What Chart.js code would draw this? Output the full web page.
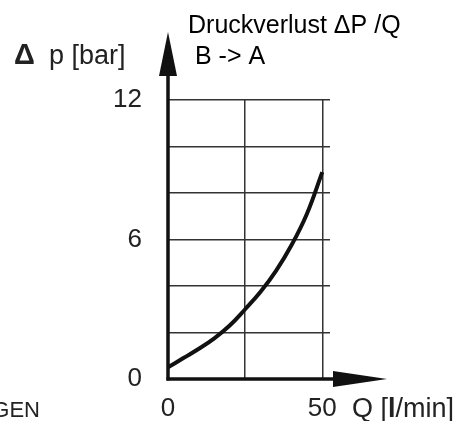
<!DOCTYPE html>
<html>
<head>
<meta charset="utf-8">
<script src="https://cdn.jsdelivr.net/npm/chart.js@4.4.0/dist/chart.umd.min.js"></script>
<style>
    html, body { margin: 0; padding: 0; background: #fff; }
    #chartBox { width: 462px; height: 421px; }
</style>
</head>
<body>
<div id="chartBox"><canvas id="lossChart"></canvas></div>
<script>
// Q [l/min] and pressure loss [bar]
var flowValues = [0, 5, 10, 15, 20, 25, 30, 35, 40, 45, 50];
var lossValues = [0.5, 0.9, 1.3, 1.75, 2.3, 3.0, 3.75, 4.65, 5.75, 7.1, 8.9];

var xTickValues = [0, 25, 50];
var xTickLabels = ['0', '', '50'];
var yTickLabels = [0, 6, 12];

var FONT = "'Liberation Sans', Arial, sans-serif";

var points = [];
for (var i = 0; i < flowValues.length; i++) {
    points.push({ x: flowValues[i], y: lossValues[i] });
}

// axes with arrows + free texts
var decorPlugin = {
    id: 'decor',
    afterDraw: function (chart) {
        var ctx = chart.ctx;
        var xs = chart.scales.x;
        var ys = chart.scales.y;
        var x0 = xs.getPixelForValue(0);
        var y0 = ys.getPixelForValue(0);

        ctx.save();
        ctx.strokeStyle = '#111';
        ctx.fillStyle = '#111';
        ctx.lineWidth = 3.5;
        ctx.lineCap = 'butt';

        // y axis
        ctx.beginPath();
        ctx.moveTo(x0, y0 + 1.5);
        ctx.lineTo(x0, 75);
        ctx.stroke();
        ctx.beginPath();
        ctx.moveTo(x0 - 9, 76);
        ctx.lineTo(x0, 32);
        ctx.lineTo(x0 + 9, 76);
        ctx.closePath();
        ctx.fill();

        // x axis
        ctx.beginPath();
        ctx.moveTo(x0 - 1.5, y0);
        ctx.lineTo(335, y0);
        ctx.stroke();
        ctx.beginPath();
        ctx.moveTo(333, y0 - 8);
        ctx.lineTo(387, y0);
        ctx.lineTo(333, y0 + 8);
        ctx.closePath();
        ctx.fill();

        // texts
        ctx.textBaseline = 'alphabetic';
        ctx.textAlign = 'left';
        ctx.fillStyle = '#000';
        ctx.font = '25px ' + FONT;
        ctx.fillText('Druckverlust \u0394P /Q', 188, 33);
        ctx.fillText('B -> A', 195, 64);

        ctx.fillStyle = '#222';
        ctx.font = 'bold 29px ' + FONT;
        ctx.fillText('\u0394', 14, 64);
        ctx.font = '27px ' + FONT;
        ctx.fillText('p [bar]', 49, 64);

        var qx = 352;
        ctx.font = '27px ' + FONT;
        ctx.fillText('Q [', qx, 417);
        qx += ctx.measureText('Q [').width;
        ctx.font = 'bold 27px ' + FONT;
        ctx.fillText('l', qx, 417);
        qx += ctx.measureText('l').width;
        ctx.font = '27px ' + FONT;
        ctx.fillText('/min]', qx, 417);

        ctx.font = '22px ' + FONT;
        ctx.textAlign = 'right';
        ctx.fillText('GEN', 40, 417);
        ctx.restore();
    }
};

var ctxEl = document.getElementById('lossChart');

new Chart(ctxEl, {
    type: 'line',
    data: {
        datasets: [{
            data: points,
            borderColor: '#111',
            borderWidth: 4,
            pointRadius: 0,
            tension: 0.4,
            fill: false
        }]
    },
    options: {
        responsive: true,
        maintainAspectRatio: false,
        animation: false,
        layout: { padding: { top: 100, right: 132, left: 0, bottom: 0 } },
        plugins: {
            legend: { display: false },
            tooltip: { enabled: false }
        },
        scales: {
            x: {
                type: 'linear',
                min: 0,
                max: 52.5,
                afterBuildTicks: function (scale) {
                    scale.ticks = xTickValues.map(function (v) { return { value: v }; });
                },
                afterFit: function (scale) { scale.height = 42; },
                border: { display: false },
                grid: { color: '#333', lineWidth: 1.5, drawTicks: false },
                ticks: {
                    padding: 14,
                    color: '#222',
                    font: { family: FONT, size: 26 },
                    maxRotation: 0,
                    callback: function (value, index) { return xTickLabels[index]; }
                }
            },
            y: {
                min: 0,
                max: 12,
                afterFit: function (scale) { scale.width = 168; },
                border: { display: false },
                grid: { color: '#333', lineWidth: 1.5, drawTicks: false },
                ticks: {
                    stepSize: 2,
                    padding: 26,
                    color: '#222',
                    font: { family: FONT, size: 26 },
                    callback: function (value) {
                        return yTickLabels.indexOf(value) >= 0 ? String(value) : '';
                    }
                }
            }
        }
    },
    plugins: [decorPlugin]
});
</script>
</body>
</html>
